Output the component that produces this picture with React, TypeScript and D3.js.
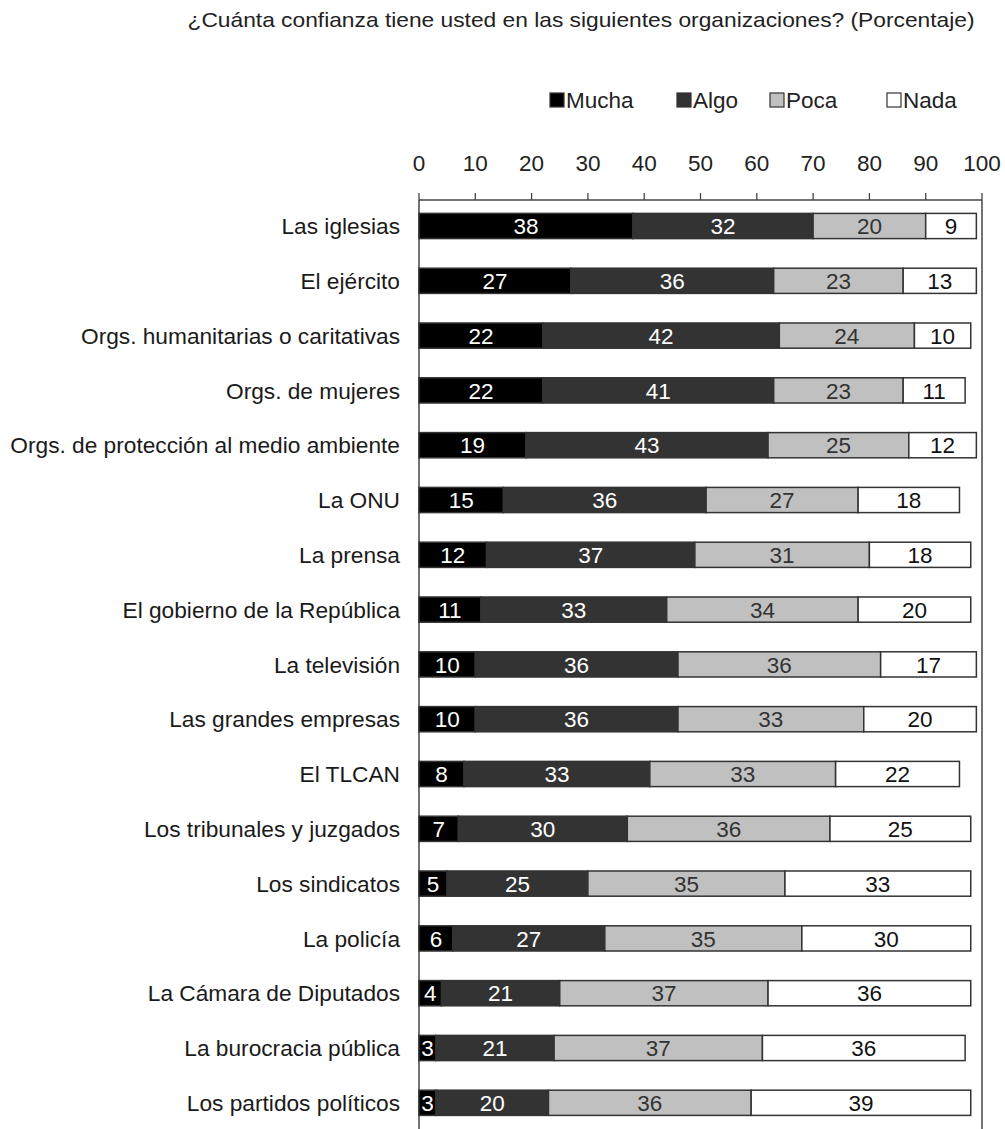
import React from 'react';
import * as d3 from 'd3';

const W = 1005;
const H = 1129;

const titleText = '¿Cuánta confianza tiene usted en las siguientes organizaciones? (Porcentaje)';

const categories = [
  'Las iglesias',
  'El ejército',
  'Orgs. humanitarias o caritativas',
  'Orgs. de mujeres',
  'Orgs. de protección al medio ambiente',
  'La ONU',
  'La prensa',
  'El gobierno de la República',
  'La televisión',
  'Las grandes empresas',
  'El TLCAN',
  'Los tribunales y juzgados',
  'Los sindicatos',
  'La policía',
  'La Cámara de Diputados',
  'La burocracia pública',
  'Los partidos políticos',
];

const seriesNames = ['Mucha', 'Algo', 'Poca', 'Nada'];

const mucha = [38, 27, 22, 22, 19, 15, 12, 11, 10, 10, 8, 7, 5, 6, 4, 3, 3];
const algo = [32, 36, 42, 41, 43, 36, 37, 33, 36, 36, 33, 30, 25, 27, 21, 21, 20];
const poca = [20, 23, 24, 23, 25, 27, 31, 34, 36, 33, 33, 36, 35, 35, 37, 37, 36];
const nada = [9, 13, 10, 11, 12, 18, 18, 20, 17, 20, 22, 25, 33, 30, 36, 36, 39];

const tickValues = [0, 10, 20, 30, 40, 50, 60, 70, 80, 90, 100];

const fills: Record<string, string> = {
  Mucha: '#000000',
  Algo: '#333333',
  Poca: '#c0c0c0',
  Nada: '#ffffff',
};
const labelColors: Record<string, string> = {
  Mucha: '#ffffff',
  Algo: '#ffffff',
  Poca: '#333333',
  Nada: '#111111',
};

const FONT = '"Liberation Sans", Arial, Helvetica, sans-serif';

export default function App() {
  const rows = categories.map((c, i) => ({
    cat: c,
    Mucha: mucha[i],
    Algo: algo[i],
    Poca: poca[i],
    Nada: nada[i],
  }));
  const stacked = d3.stack<any>().keys(seriesNames)(rows);

  const x = d3.scaleLinear().domain([0, 100]).range([419, 982]);
  const y = d3
    .scaleBand<string>()
    .domain(categories)
    .range([198.6, 1130.2])
    .paddingInner(0.54)
    .paddingOuter(0.27);

  const axisY = 200;

  const legendItems = [
    { key: 'Mucha', sx: 550 },
    { key: 'Algo', sx: 677 },
    { key: 'Poca', sx: 770 },
    { key: 'Nada', sx: 887 },
  ];

  return (
    <svg
      width={W}
      height={H}
      viewBox={`0 0 ${W} ${H}`}
      style={{ position: 'absolute', left: 0, top: 0, background: '#fff' }}
      fontFamily={FONT}
    >
      <rect x={0} y={0} width={W} height={H} fill="#ffffff" />
      {/* Title */}
      <text
        x={581}
        y={27}
        textAnchor="middle"
        fontSize={21}
        fill="#222"
        textLength={787}
        lengthAdjust="spacingAndGlyphs"
      >
        {titleText}
      </text>

      {/* Legend */}
      {legendItems.map((it) => (
        <g key={it.key}>
          <rect
            x={it.sx}
            y={93}
            width={14}
            height={14}
            fill={fills[it.key]}
            stroke="#333"
            strokeWidth={1.2}
          />
          <text x={it.sx + 16} y={108} fontSize={22.5} fill="#222">
            {it.key}
          </text>
        </g>
      ))}

      {/* Axis tick labels and ticks */}
      {tickValues.map((t) => (
        <g key={t}>
          <text x={x(t)} y={171} textAnchor="middle" fontSize={22.5} fill="#222">
            {t}
          </text>
          <line x1={x(t)} x2={x(t)} y1={axisY - 7} y2={axisY} stroke="#444" strokeWidth={1.3} />
        </g>
      ))}

      {/* Frame */}
      <line x1={x(0)} x2={x(100)} y1={axisY} y2={axisY} stroke="#444" strokeWidth={1.5} />
      <line x1={x(0)} x2={x(0)} y1={axisY} y2={H + 5} stroke="#444" strokeWidth={1.5} />
      <line x1={x(100)} x2={x(100)} y1={axisY} y2={H + 5} stroke="#444" strokeWidth={1.5} />

      {/* Category labels */}
      {categories.map((c) => (
        <text
          key={c}
          x={400}
          y={(y(c) as number) + y.bandwidth() / 2}
          dy="0.36em"
          textAnchor="end"
          fontSize={22.7}
          fill="#1a1a1a"
        >
          {c}
        </text>
      ))}

      {/* Bars */}
      {stacked.map((s) => (
        <g key={s.key}>
          {s.map((d, i) => {
            const cat = categories[i];
            const x0 = x(d[0]);
            const x1 = x(d[1]);
            const yy = y(cat) as number;
            return (
              <g key={cat}>
                <rect
                  x={x0}
                  y={yy}
                  width={x1 - x0}
                  height={y.bandwidth()}
                  fill={fills[s.key]}
                  stroke="#333"
                  strokeWidth={1.5}
                />
                <text
                  x={(x0 + x1) / 2}
                  y={yy + y.bandwidth() / 2}
                  dy="0.36em"
                  textAnchor="middle"
                  fontSize={22.5}
                  fill={labelColors[s.key]}
                >
                  {d[1] - d[0]}
                </text>
              </g>
            );
          })}
        </g>
      ))}
    </svg>
  );
}
